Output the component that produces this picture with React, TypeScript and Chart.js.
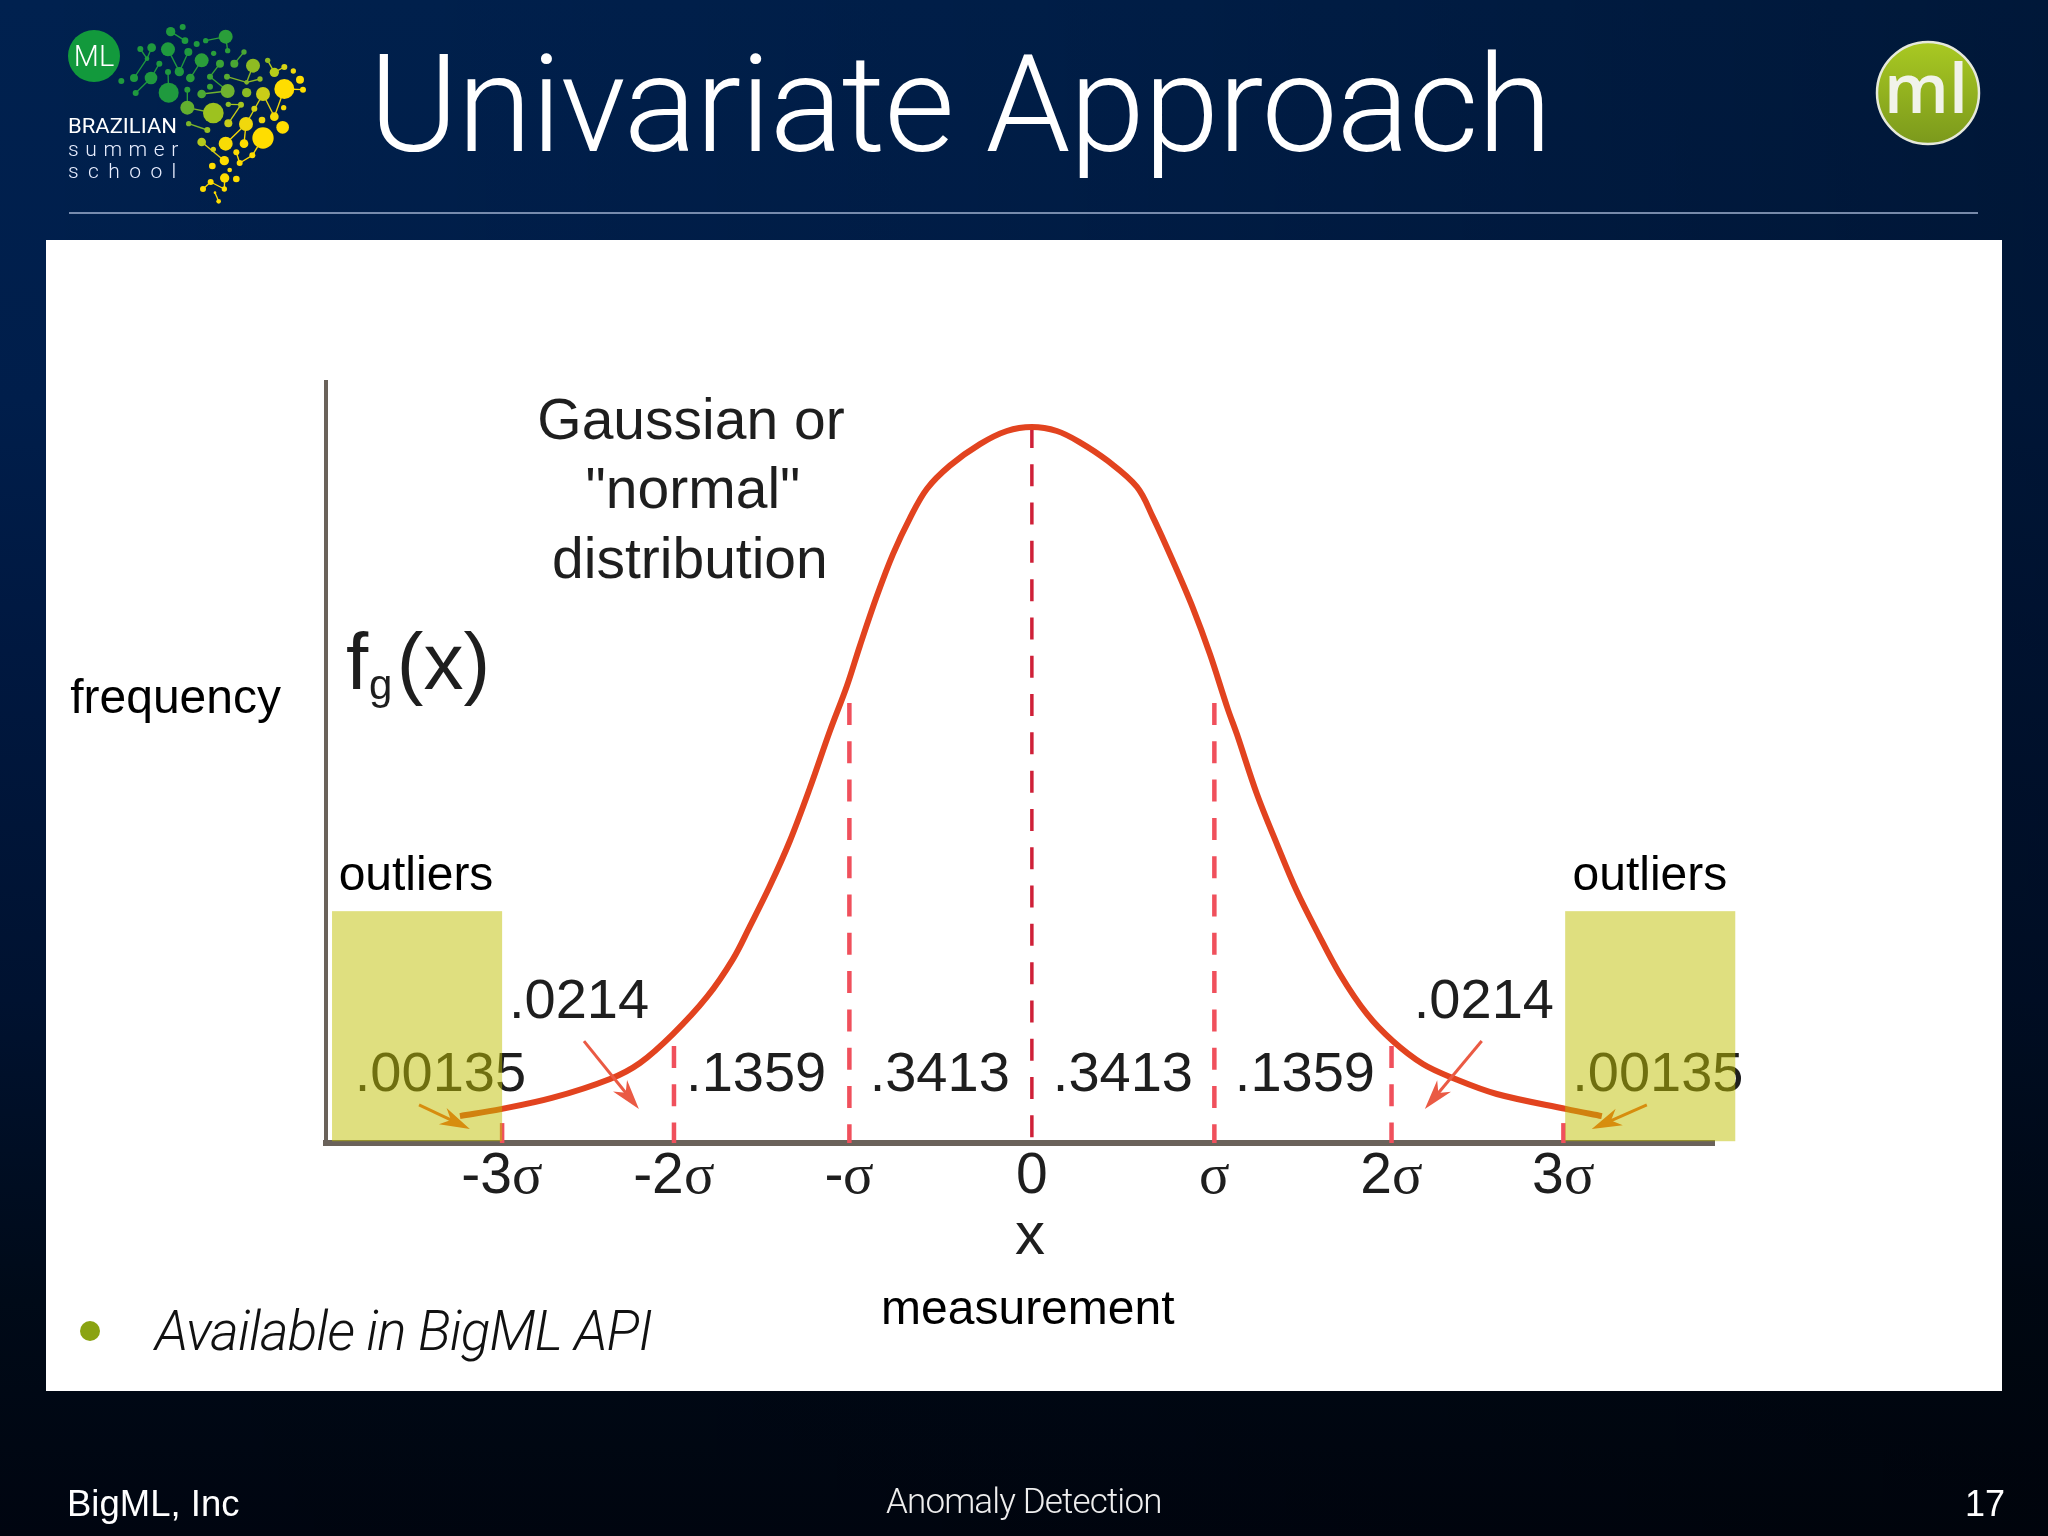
import React, { useEffect, useRef } from "react";
import { Chart, registerables } from "chart.js";

Chart.register(...registerables);

// ---- data (x in sigma units, y in density) ----
const curveX = [-3.228,-2.997,-2.709,-2.381,-2.212,-2.026,-1.834,-1.687,-1.591,-1.479,-1.366,-1.253,-1.14,-1.044,-0.971,-0.875,-0.784,-0.688,-0.593,-0.463,-0.293,-0.141,0,0.141,0.271,0.423,0.593,0.683,0.796,0.909,1.005,1.106,1.157,1.27,1.383,1.495,1.608,1.738,1.891,2.037,2.207,2.376,2.624,3.019,3.217];
const curveY = [0.015,0.0189,0.0251,0.0357,0.0446,0.0607,0.0814,0.1025,0.1209,0.1432,0.1683,0.1978,0.2296,0.2547,0.277,0.3048,0.3282,0.3483,0.3645,0.3775,0.3895,0.3968,0.399,0.3968,0.3905,0.3805,0.3656,0.3488,0.3243,0.2981,0.2725,0.2418,0.2279,0.1945,0.1666,0.1404,0.1181,0.0942,0.0719,0.0568,0.044,0.0362,0.0273,0.0189,0.015];

const tickPositions = [-2.99, -2.02, -1.03, 0, 1.03, 2.03, 3];
const tickLabels = ["-3σ", "-2σ", "-σ", "0", "σ", "2σ", "3σ"];
const dashTops = [0.0111, 0.0541, 0.2452, 0.3996, 0.2452, 0.0541, 0.0111];

const outlierBands = [[-3.95, -2.99], [3.01, 3.97]];
const outlierBandTop = 0.1292;
const outlierBandBottom = 0.001;

const arrowsRed = [
  [-2.528, 0.0568, -2.218, 0.0189],
  [2.539, 0.0568, 2.218, 0.0189],
];
const arrowsOrange = [
  [-3.459, 0.0212, -3.172, 0.0078],
  [3.471, 0.0212, 3.16, 0.0078],
];

const probabilityLabels: [string, number, number][] = [
  [".0214", -2.556, 0.0697],
  [".0214", 2.551, 0.0697],
  [".00135", -3.338, 0.029],
  [".00135", 3.533, 0.029],
  [".1359", -1.556, 0.029],
  [".1359", 1.541, 0.029],
  [".3413", -0.52, 0.029],
  [".3413", 0.514, 0.029],
];
const captionLines: [string, number, number][] = [
  ["Gaussian or", -1.924, 0.3923],
  ['"normal"', -1.913, 0.3539],
  ["distribution", -1.93, 0.3149],
];
const axisNotes: [string, number, number][] = [
  ["outliers", -3.476, 0.141],
  ["outliers", 3.488, 0.141],
  ["frequency", -4.833, 0.2396],
  ["measurement", -0.023, -0.1009],
];

// ---- slide decoration ----
const nodes: [number, number, number, string][] = [
  [512,95,14,"#1f9a3e"],[548,81,9,"#1f9a3e"],[555,122,10,"#1f9a3e"],[590,132,9,"#1f9a3e"],[617,122,8,"#1f9a3e"],[677,110,21,"#2a9e3a"],[683,152,8,"#2a9e3a"],
  [421,147,9,"#1f9a3e"],[455,143,13,"#1f9a3e"],[504,148,21,"#1f9a3e"],[441,176,7,"#1f9a3e"],[565,156,12,"#1f9a3e"],[641,160,8,"#2a9e3a"],[605,181,21,"#2a9e3a"],
  [478,191,9,"#1f9a3e"],[660,191,12,"#3aa335"],[703,191,12,"#4aa734"],[732,156,8,"#4aa734"],[402,234,12,"#1f9a3e"],[453,234,19,"#1f9a3e"],[364,243,9,"#1f9a3e"],
  [504,216,9,"#1f9a3e"],[538,215,14,"#1f9a3e"],[571,234,13,"#2a9e3a"],[630,230,9,"#3aa335"],[506,278,30,"#1f9a3e"],[407,279,9,"#1f9a3e"],[630,260,9,"#3aa335"],[562,269,9,"#2a9e3a"],
  [759,197,21,"#8fbb22"],[803,181,8,"#8fbb22"],[823,217,14,"#b5cc1a"],[853,201,9,"#d7d415"],[880,213,8,"#f0d80c"],[681,230,9,"#5aab30"],[740,247,7,"#7fb42a"],[780,237,8,"#8fbb22"],
  [683,273,21,"#6fb22f"],[605,282,13,"#4aa734"],[740,278,14,"#8cbc24"],[789,282,21,"#c9cd18"],[853,267,30,"#ffdd00"],[900,239,12,"#ffdd00"],[909,269,9,"#ffdd00"],
  [562,323,21,"#62ae2f"],[640,339,31,"#9dc21f"],[685,313,8,"#8cbc24"],[723,314,9,"#a7c61f"],[763,326,9,"#d5d313"],[851,323,8,"#f8db05"],[823,350,13,"#f5da07"],
  [566,371,8,"#7cb52a"],[622,390,9,"#96bf23"],[685,370,12,"#c7cd18"],[738,372,21,"#f0d80c"],[786,360,10,"#f0d80c"],[848,382,19,"#ffdd00"],[605,426,13,"#b5c91d"],[640,448,8,"#d5d013"],
  [677,431,21,"#f8db05"],[732,431,13,"#ffdd00"],[789,414,32,"#ffdd00"],[709,457,9,"#fcdc02"],[673,482,14,"#ffdd00"],[719,489,9,"#ffdd00"],[757,466,9,"#ffdd00"],[637,498,10,"#ffdd00"],
  [689,510,7,"#ffdd00"],[674,534,14,"#ffdd00"],[709,537,10,"#ffdd00"],[632,546,9,"#ffdd00"],[673,567,8,"#ffdd00"],[609,567,9,"#ffdd00"],[645,578,4,"#ffdd00"],[656,604,7,"#ffdd00"],
];
const links: [number, number, number, number, string][] = [
  [512,95,555,122,"#1f9a3e"],[617,122,677,110,"#2a9e3a"],[677,110,683,152,"#2a9e3a"],[421,147,441,176,"#1f9a3e"],[455,143,441,176,"#1f9a3e"],[441,176,402,234,"#1f9a3e"],
  [504,148,538,215,"#1f9a3e"],[565,156,538,215,"#1f9a3e"],[478,191,453,234,"#1f9a3e"],[605,181,571,234,"#2a9e3a"],[660,191,630,230,"#3aa335"],[630,230,683,273,"#3aa335"],
  [703,191,732,156,"#4aa734"],[504,216,506,278,"#1f9a3e"],[407,279,453,234,"#1f9a3e"],[562,269,562,323,"#2a9e3a"],[681,230,740,247,"#7fb42a"],[740,247,780,237,"#8fbb22"],
  [740,247,759,197,"#8fbb22"],[803,181,823,217,"#b5cc1a"],[823,217,853,201,"#d7d415"],[605,282,683,273,"#6fb22f"],[853,267,909,269,"#ffdd00"],[853,267,823,350,"#f5da07"],
  [823,350,789,282,"#e0d010"],[789,282,738,372,"#d5d313"],[562,323,640,339,"#7cb52a"],[685,313,723,314,"#a7c61f"],[723,314,685,370,"#c7cd18"],[566,371,622,390,"#7cb52a"],
  [738,372,732,431,"#f8db05"],[738,372,677,431,"#f8db05"],[605,426,673,482,"#e0d010"],[709,457,719,489,"#ffdd00"],[719,489,757,466,"#ffdd00"],[757,466,789,414,"#ffdd00"],
  [609,567,632,546,"#ffdd00"],[632,546,673,567,"#ffdd00"],[673,567,674,534,"#ffdd00"],[645,578,656,604,"#ffdd00"],
];

const SANS = "'Liberation Sans', Arial, sans-serif";
const MIX = "SigmaMix, 'Liberation Sans', Arial, sans-serif";
const INK = "#1e1e1e";
const SOFT = "blur(0.7px)";

function drawArrow(ctx: CanvasRenderingContext2D, x0: number, y0: number, x1: number, y1: number, color: string) {
  const a = Math.atan2(y1 - y0, x1 - x0);
  const len = 30;
  const w = 9;
  ctx.strokeStyle = color;
  ctx.fillStyle = color;
  ctx.lineWidth = 3;
  ctx.beginPath();
  ctx.moveTo(x0, y0);
  ctx.lineTo(x1 - Math.cos(a) * 10, y1 - Math.sin(a) * 10);
  ctx.stroke();
  const bx = x1 - Math.cos(a) * len;
  const by = y1 - Math.sin(a) * len;
  ctx.beginPath();
  ctx.moveTo(x1, y1);
  ctx.lineTo(bx - Math.sin(a) * w, by + Math.cos(a) * w);
  ctx.lineTo(x1 - Math.cos(a) * (len - 9), y1 - Math.sin(a) * (len - 9));
  ctx.lineTo(bx + Math.sin(a) * w, by - Math.cos(a) * w);
  ctx.closePath();
  ctx.fill();
}

const slidePlugin = {
  id: "slidePlugin",
  beforeDraw(chart: any) {
    const { ctx, width, height } = chart;
    ctx.fillStyle = "#ffffff";
    ctx.fillRect(0, 0, width, height);
    ctx.filter = SOFT; // the figure in the slide is a soft, upscaled picture
  },
  afterDraw(chart: any) {
    const { ctx } = chart;
    const X = chart.scales.x;
    const Y = chart.scales.y;
    const px = (v: number) => X.getPixelForValue(v);
    const py = (v: number) => Y.getPixelForValue(v);
    ctx.save();
    ctx.textBaseline = "alphabetic";
    ctx.filter = SOFT;
    arrowsRed.forEach(([a, b, c, d]) => drawArrow(ctx, px(a), py(b), px(c), py(d), "#ea5a44"));
    arrowsOrange.forEach(([a, b, c, d]) => drawArrow(ctx, px(a), py(b), px(c), py(d), "#ee5a1c"));

    ctx.fillStyle = INK;
    ctx.textAlign = "center";
    ctx.font = `56px ${SANS}`;
    probabilityLabels.forEach(([t, x, y]) => ctx.fillText(t, px(x), py(y)));
    ctx.font = `57px ${SANS}`;
    captionLines.forEach(([t, x, y]) => ctx.fillText(t, px(x), py(y)));
    ctx.font = `60px ${SANS}`;
    ctx.fillText("x", px(-0.011), py(-0.0619));

    ctx.textAlign = "left";
    ctx.font = `80px ${SANS}`;
    ctx.fillText("f", px(-3.871), py(0.253));
    ctx.fillText("(x)", px(-3.584), py(0.253));
    ctx.font = `42px ${SANS}`;
    ctx.fillText("g", px(-3.742), py(0.2474));

    ctx.fillStyle = "rgba(192,192,0,0.5)";
    outlierBands.forEach(([a, b]) => {
      ctx.fillRect(px(a), py(outlierBandTop), px(b) - px(a), py(outlierBandBottom) - py(outlierBandTop));
    });

    ctx.filter = "none";
    ctx.fillStyle = "#000000";
    ctx.textAlign = "center";
    ctx.font = `48px ${SANS}`;
    axisNotes.forEach(([t, x, y]) => ctx.fillText(t, px(x), py(y)));
    ctx.restore();
  },
};

const PANEL = { left: 46, top: 240, width: 1956, height: 1151 };

export default function App() {
  const ref = useRef<HTMLCanvasElement>(null);

  useEffect(() => {
    let chart: Chart | null = null;
    let cancelled = false;
    const build = () => {
      if (cancelled || !ref.current) return;
      const dashDatasets = tickPositions.map((x, i) => ({
        label: tickLabels[i],
        data: [{ x, y: dashTops[i] }, { x, y: 0 }],
        borderColor: x === 0 ? "#cf2038" : "#f0505c",
        borderWidth: x === 0 ? 3.5 : 4.5,
        borderDash: [22, 16.3],
        pointRadius: 0,
        tension: 0,
      }));
      chart = new Chart(ref.current, {
        type: "line",
        data: {
          datasets: [
            {
              label: "fg(x)",
              data: curveX.map((x, i) => ({ x, y: curveY[i] })),
              borderColor: "#e2431f",
              borderWidth: 6,
              pointRadius: 0,
              tension: 0.35,
              order: 0,
            } as any,
            ...dashDatasets.map((d) => ({ ...d, order: 1 })),
          ],
        },
        options: {
          responsive: false,
          animation: false,
          layout: { padding: { left: 280, right: 288, top: 142, bottom: 148 } },
          plugins: { legend: { display: false }, tooltip: { enabled: false }, title: { display: false } },
          scales: {
            x: {
              type: "linear",
              min: -3.984,
              max: 3.85,
              grid: { display: false, drawTicks: false },
              border: { display: true, color: "#6a625a", width: 6 },
              afterFit: (s: any) => { s.height = 100; },
              afterBuildTicks: (s: any) => { s.ticks = tickPositions.map((value) => ({ value })); },
              ticks: {
                autoSkip: false,
                maxRotation: 0,
                minRotation: 0,
                padding: 0,
                color: INK,
                font: { family: MIX, size: 57 },
                callback: (_v: any, i: number) => tickLabels[i],
              },
            },
            y: {
              type: "linear",
              min: 0,
              max: 0.4241,
              grid: { display: false, drawTicks: false },
              border: { display: true, color: "#6a625a", width: 4 },
              afterFit: (s: any) => { s.width = 0; },
              ticks: { display: false },
            },
          },
        } as any,
        plugins: [slidePlugin],
      });
    };
    const fontReady = (document as any).fonts?.load ? (document as any).fonts.load("54px SigmaMix", "σ") : Promise.resolve();
    fontReady.then(build, build);
    return () => {
      cancelled = true;
      if (chart) chart.destroy();
    };
  }, []);

  return (
    <div
      style={{
        position: "absolute",
        left: 0,
        top: 0,
        width: 2048,
        height: 1536,
        overflow: "hidden",
        background:
          "linear-gradient(90deg,rgba(0,0,0,0) 0px,rgba(0,0,0,0.1) 1024px,rgba(0,0,0,0.28) 2048px),linear-gradient(180deg,#00214f 0px,#001e4b 400px,#001840 650px,#001230 1000px,#000a18 1300px,#000510 1536px)",
      }}
    >
      <style>{`@font-face{font-family:SigmaMix;src:local('Liberation Serif');unicode-range:U+03C3;}`}</style>
      <canvas
        ref={ref}
        width={PANEL.width}
        height={PANEL.height}
        style={{ position: "absolute", left: PANEL.left, top: PANEL.top, width: PANEL.width, height: PANEL.height }}
      />
      <svg width={2048} height={1536} style={{ position: "absolute", left: 0, top: 0, pointerEvents: "none" }}>
        {/* title rule */}
        <line x1={69} y1={213} x2={1978} y2={213} stroke="#9fb0cf" strokeWidth={1.5} />
        <text x={369} y={151} fill="#fff" fontFamily="Roboto" fontWeight={300} fontSize={136} letterSpacing={-1.1}>Univariate Approach</text>

        {/* Brazilian summer school logo */}
        <circle cx={94} cy={56} r={26} fill="#12993c" />
        <text x={94} y={66} textAnchor="middle" fill="#fff" fontFamily="Roboto" fontWeight={300} fontSize={29}>ML</text>
        <g transform="scale(0.33333)">
          {links.map(([a, b, c, d, col], i) => (
            <line key={i} x1={a} y1={b} x2={c} y2={d} stroke={col} strokeWidth={4} />
          ))}
          {nodes.map(([x, y, r, col], i) => (
            <circle key={i} cx={x} cy={y} r={r} fill={col} />
          ))}
        </g>
        <text x={68} y={133} fill="#fff" fontFamily="Roboto" fontWeight={400} fontSize={21} textLength={109} lengthAdjust="spacingAndGlyphs">BRAZILIAN</text>
        <text x={68} y={156} fill="#e8eeff" fontFamily="Roboto" fontWeight={300} fontSize={21} letterSpacing={6.6}>summer</text>
        <text x={68} y={178} fill="#e8eeff" fontFamily="Roboto" fontWeight={300} fontSize={21} letterSpacing={9.4}>school</text>

        {/* ml badge */}
        <defs>
          <linearGradient id="mlGrad" x1="0" y1="0" x2="0" y2="1">
            <stop offset="0" stopColor="#a9c922" />
            <stop offset="1" stopColor="#7b991c" />
          </linearGradient>
        </defs>
        <circle cx={1928} cy={93} r={51} fill="url(#mlGrad)" stroke="#e6e9dc" strokeWidth={2.5} />
        <text x={1926} y={113} textAnchor="middle" fill="#f1f3ea" fontFamily="Open Sans" fontWeight={600} fontSize={68}>ml</text>

        {/* bullet */}
        <circle cx={90} cy={1331} r={10} fill="#8aa312" />
        <text x={155} y={1350} fill="#111" fontFamily="Roboto" fontStyle="italic" fontWeight={300} fontSize={55} letterSpacing={-0.95}>Available in BigML API</text>

        {/* footer */}
        <text x={67} y={1516} fill="#fff" fontFamily="Liberation Sans" fontSize={36.5}>BigML, Inc</text>
        <text x={886} y={1513} fill="#eee" fontFamily="Roboto" fontWeight={300} fontSize={35} letterSpacing={-0.85}>Anomaly Detection</text>
        <text x={2005} y={1516} textAnchor="end" fill="#fff" fontFamily="Liberation Sans" fontSize={36}>17</text>
      </svg>
    </div>
  );
}
